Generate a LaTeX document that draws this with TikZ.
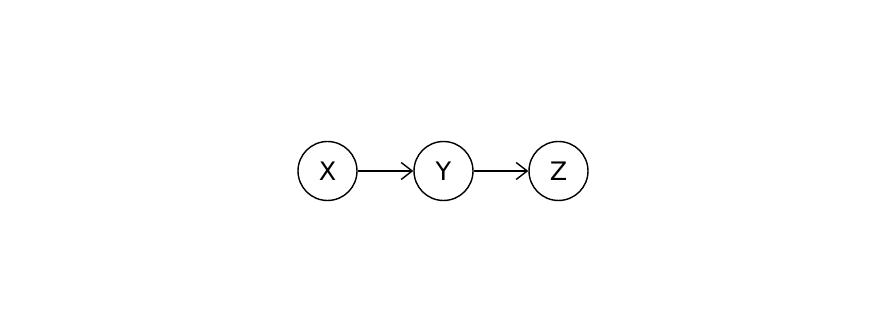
\documentclass[tikz,border=0pt]{standalone}
\usepackage{fontspec}
\setmainfont{DejaVu Sans}
\usetikzlibrary{arrows.meta}
\tikzset{
  var/.style={draw,circle,minimum size=1.18cm,inner sep=0pt,line width=0.8pt,font=\fontsize{14.5}{16}\selectfont},
  link/.style={-{Straight Barb[length=2.2mm,width=3.4mm,line width=0.8pt]},line width=0.8pt}
}
\begin{document}
\begin{tikzpicture}[x=0.02cm,y=0.02cm]
  \useasboundingbox (0,0) rectangle (873,324);
  \node[var] (x) at (327.5,153) {X};
  \node[var] (y) at (443.5,153) {Y};
  \node[var] (z) at (558.5,153) {Z};
  \draw[link] (x)--(y);
  \draw[link] (y)--(z);
\end{tikzpicture}
\end{document}
